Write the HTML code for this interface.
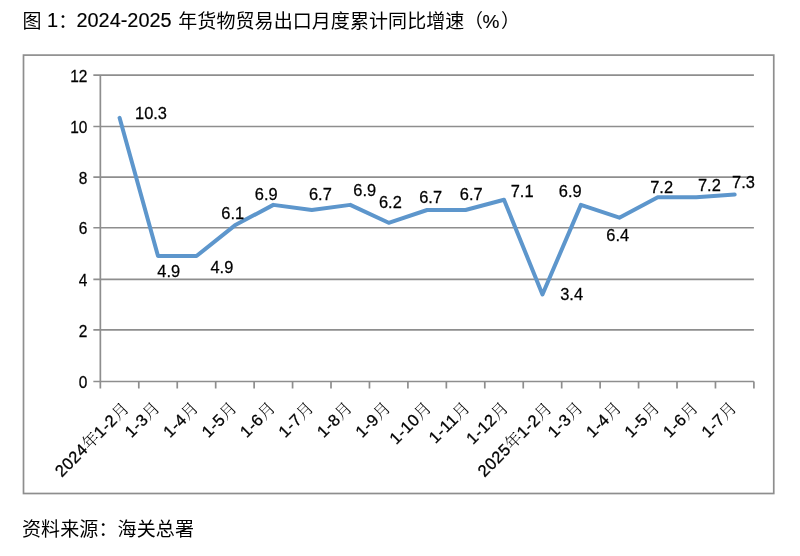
<!DOCTYPE html>
<html lang="zh-CN"><head><meta charset="utf-8"><title>图1</title>
<style>
html,body{margin:0;padding:0;background:#fff;}
body{width:800px;height:556px;overflow:hidden;}
svg{display:block;}
text{fill:#000;}
.t{font-family:"Liberation Sans","Noto Sans CJK SC",sans-serif;}
.b{stroke:#000;stroke-width:0.15px;}
.c{font-family:"Liberation Sans","Noto Sans CJK SC",sans-serif;font-size:19px;}
.l{font-family:"Liberation Sans",sans-serif;font-size:16.1px;stroke:#000;stroke-width:0.25px;}
.d{font-family:"Liberation Sans",sans-serif;font-size:17.3px;stroke:#000;stroke-width:0.25px;}
.k{font-family:"Liberation Sans",sans-serif;font-size:16.5px;letter-spacing:0.45px;stroke:#000;stroke-width:0.3px;}
.s{font-family:"Liberation Serif","Noto Serif CJK SC",serif;font-size:16.5px;font-weight:300;}
</style></head><body>
<svg width="800" height="556" viewBox="0 0 800 556">
<rect x="0" y="0" width="800" height="556" fill="#fff"/>

<text class="c" x="22.5" y="28">图</text>
<text class="t b" x="47" y="27.4" font-size="19.9">1</text>
<text class="c" x="58.3" y="27.5">：</text>
<text class="t b" x="76.5" y="27.4" font-size="19.9">2024-2025</text>
<text class="c" x="178.3" y="28" textLength="286" lengthAdjust="spacing">年货物贸易出口月度累计同比增速</text>
<text class="c" x="464" y="28">（</text>
<text class="t b" x="482.5" y="27.6" font-size="19">%</text>
<text class="c" x="501" y="28">）</text>
<rect x="23.5" y="55.1" width="750.25" height="438.4" fill="none" stroke="#8e8e8e" stroke-width="1.7"/>
<line x1="93.35" y1="381.49" x2="753.9" y2="381.49" stroke="#8e8e8e" stroke-width="1.7"/>
<text class="l" transform="translate(87.40,388.09) scale(0.96,1)" text-anchor="end">0</text>
<line x1="93.35" y1="329.95" x2="753.9" y2="329.95" stroke="#8e8e8e" stroke-width="1.7"/>
<text class="l" transform="translate(87.40,336.55) scale(0.96,1)" text-anchor="end">2</text>
<line x1="93.35" y1="279.40" x2="753.9" y2="279.40" stroke="#8e8e8e" stroke-width="1.7"/>
<text class="l" transform="translate(87.40,286.00) scale(0.96,1)" text-anchor="end">4</text>
<line x1="93.35" y1="227.75" x2="753.9" y2="227.75" stroke="#8e8e8e" stroke-width="1.7"/>
<text class="l" transform="translate(87.40,234.35) scale(0.96,1)" text-anchor="end">6</text>
<line x1="93.35" y1="177.20" x2="753.9" y2="177.20" stroke="#8e8e8e" stroke-width="1.7"/>
<text class="l" transform="translate(87.40,183.80) scale(0.96,1)" text-anchor="end">8</text>
<line x1="93.35" y1="126.49" x2="753.9" y2="126.49" stroke="#8e8e8e" stroke-width="1.7"/>
<text class="l" transform="translate(87.40,133.09) scale(0.96,1)" text-anchor="end">10</text>
<line x1="93.35" y1="75.04" x2="753.9" y2="75.04" stroke="#8e8e8e" stroke-width="1.7"/>
<text class="l" transform="translate(87.40,81.64) scale(0.96,1)" text-anchor="end">12</text>
<line x1="100.35" y1="75.04" x2="100.35" y2="388.5" stroke="#8e8e8e" stroke-width="1.7"/>
<line x1="138.79" y1="381.5" x2="138.79" y2="388.5" stroke="#8e8e8e" stroke-width="1.7"/>
<line x1="177.24" y1="381.5" x2="177.24" y2="388.5" stroke="#8e8e8e" stroke-width="1.7"/>
<line x1="215.68" y1="381.5" x2="215.68" y2="388.5" stroke="#8e8e8e" stroke-width="1.7"/>
<line x1="254.13" y1="381.5" x2="254.13" y2="388.5" stroke="#8e8e8e" stroke-width="1.7"/>
<line x1="292.57" y1="381.5" x2="292.57" y2="388.5" stroke="#8e8e8e" stroke-width="1.7"/>
<line x1="331.01" y1="381.5" x2="331.01" y2="388.5" stroke="#8e8e8e" stroke-width="1.7"/>
<line x1="369.46" y1="381.5" x2="369.46" y2="388.5" stroke="#8e8e8e" stroke-width="1.7"/>
<line x1="407.90" y1="381.5" x2="407.90" y2="388.5" stroke="#8e8e8e" stroke-width="1.7"/>
<line x1="446.35" y1="381.5" x2="446.35" y2="388.5" stroke="#8e8e8e" stroke-width="1.7"/>
<line x1="484.79" y1="381.5" x2="484.79" y2="388.5" stroke="#8e8e8e" stroke-width="1.7"/>
<line x1="523.24" y1="381.5" x2="523.24" y2="388.5" stroke="#8e8e8e" stroke-width="1.7"/>
<line x1="561.68" y1="381.5" x2="561.68" y2="388.5" stroke="#8e8e8e" stroke-width="1.7"/>
<line x1="600.12" y1="381.5" x2="600.12" y2="388.5" stroke="#8e8e8e" stroke-width="1.7"/>
<line x1="638.57" y1="381.5" x2="638.57" y2="388.5" stroke="#8e8e8e" stroke-width="1.7"/>
<line x1="677.01" y1="381.5" x2="677.01" y2="388.5" stroke="#8e8e8e" stroke-width="1.7"/>
<line x1="715.46" y1="381.5" x2="715.46" y2="388.5" stroke="#8e8e8e" stroke-width="1.7"/>
<line x1="753.90" y1="381.5" x2="753.90" y2="388.5" stroke="#8e8e8e" stroke-width="1.7"/>
<polyline points="119.57,117.82 158.02,256.06 196.46,256.06 234.90,225.34 273.35,204.86 311.79,209.98 350.24,204.86 388.68,222.78 427.12,209.98 465.57,209.98 504.01,199.74 542.46,294.46 580.90,204.86 619.35,217.66 657.79,197.18 696.23,197.18 734.68,194.62" fill="none" stroke="#5d96cc" stroke-width="4" stroke-linejoin="round" stroke-linecap="round"/>
<text class="d" transform="translate(151.00,119.10) scale(0.95,1)" text-anchor="middle">10.3</text>
<text class="d" transform="translate(168.75,276.50) scale(0.95,1)" text-anchor="middle">4.9</text>
<text class="d" transform="translate(221.90,272.50) scale(0.95,1)" text-anchor="middle">4.9</text>
<text class="d" transform="translate(232.75,218.75) scale(0.95,1)" text-anchor="middle">6.1</text>
<text class="d" transform="translate(266.25,199.50) scale(0.95,1)" text-anchor="middle">6.9</text>
<text class="d" transform="translate(320.40,199.50) scale(0.95,1)" text-anchor="middle">6.7</text>
<text class="d" transform="translate(364.75,195.75) scale(0.95,1)" text-anchor="middle">6.9</text>
<text class="d" transform="translate(390.40,208.25) scale(0.95,1)" text-anchor="middle">6.2</text>
<text class="d" transform="translate(430.60,203.25) scale(0.95,1)" text-anchor="middle">6.7</text>
<text class="d" transform="translate(471.25,199.50) scale(0.95,1)" text-anchor="middle">6.7</text>
<text class="d" transform="translate(522.10,196.50) scale(0.95,1)" text-anchor="middle">7.1</text>
<text class="d" transform="translate(571.60,300.00) scale(0.95,1)" text-anchor="middle">3.4</text>
<text class="d" transform="translate(570.25,197.00) scale(0.95,1)" text-anchor="middle">6.9</text>
<text class="d" transform="translate(617.75,241.25) scale(0.95,1)" text-anchor="middle">6.4</text>
<text class="d" transform="translate(661.60,192.50) scale(0.95,1)" text-anchor="middle">7.2</text>
<text class="d" transform="translate(709.40,190.75) scale(0.95,1)" text-anchor="middle">7.2</text>
<text class="d" transform="translate(743.50,187.50) scale(0.95,1)" text-anchor="middle">7.3</text>
<text transform="translate(130.07,409.40) rotate(-45)" text-anchor="end"><tspan class="k">2024</tspan><tspan class="s">年</tspan><tspan class="k">1-2</tspan><tspan class="s">月</tspan></text>
<text transform="translate(161.02,408.90) rotate(-45)" text-anchor="end"><tspan class="k">1-3</tspan><tspan class="s">月</tspan></text>
<text transform="translate(199.46,408.90) rotate(-45)" text-anchor="end"><tspan class="k">1-4</tspan><tspan class="s">月</tspan></text>
<text transform="translate(237.90,408.90) rotate(-45)" text-anchor="end"><tspan class="k">1-5</tspan><tspan class="s">月</tspan></text>
<text transform="translate(276.35,408.90) rotate(-45)" text-anchor="end"><tspan class="k">1-6</tspan><tspan class="s">月</tspan></text>
<text transform="translate(314.79,408.90) rotate(-45)" text-anchor="end"><tspan class="k">1-7</tspan><tspan class="s">月</tspan></text>
<text transform="translate(353.24,408.90) rotate(-45)" text-anchor="end"><tspan class="k">1-8</tspan><tspan class="s">月</tspan></text>
<text transform="translate(391.68,408.90) rotate(-45)" text-anchor="end"><tspan class="k">1-9</tspan><tspan class="s">月</tspan></text>
<text transform="translate(432.52,408.90) rotate(-45)" text-anchor="end"><tspan class="k">1-10</tspan><tspan class="s">月</tspan></text>
<text transform="translate(470.97,408.90) rotate(-45)" text-anchor="end"><tspan class="k">1-11</tspan><tspan class="s">月</tspan></text>
<text transform="translate(509.41,408.90) rotate(-45)" text-anchor="end"><tspan class="k">1-12</tspan><tspan class="s">月</tspan></text>
<text transform="translate(552.96,409.40) rotate(-45)" text-anchor="end"><tspan class="k">2025</tspan><tspan class="s">年</tspan><tspan class="k">1-2</tspan><tspan class="s">月</tspan></text>
<text transform="translate(583.90,408.90) rotate(-45)" text-anchor="end"><tspan class="k">1-3</tspan><tspan class="s">月</tspan></text>
<text transform="translate(622.35,408.90) rotate(-45)" text-anchor="end"><tspan class="k">1-4</tspan><tspan class="s">月</tspan></text>
<text transform="translate(660.79,408.90) rotate(-45)" text-anchor="end"><tspan class="k">1-5</tspan><tspan class="s">月</tspan></text>
<text transform="translate(699.23,408.90) rotate(-45)" text-anchor="end"><tspan class="k">1-6</tspan><tspan class="s">月</tspan></text>
<text transform="translate(737.68,408.90) rotate(-45)" text-anchor="end"><tspan class="k">1-7</tspan><tspan class="s">月</tspan></text>
<text class="c" x="22" y="536" textLength="172" lengthAdjust="spacing">资料来源：海关总署</text>
</svg></body></html>
